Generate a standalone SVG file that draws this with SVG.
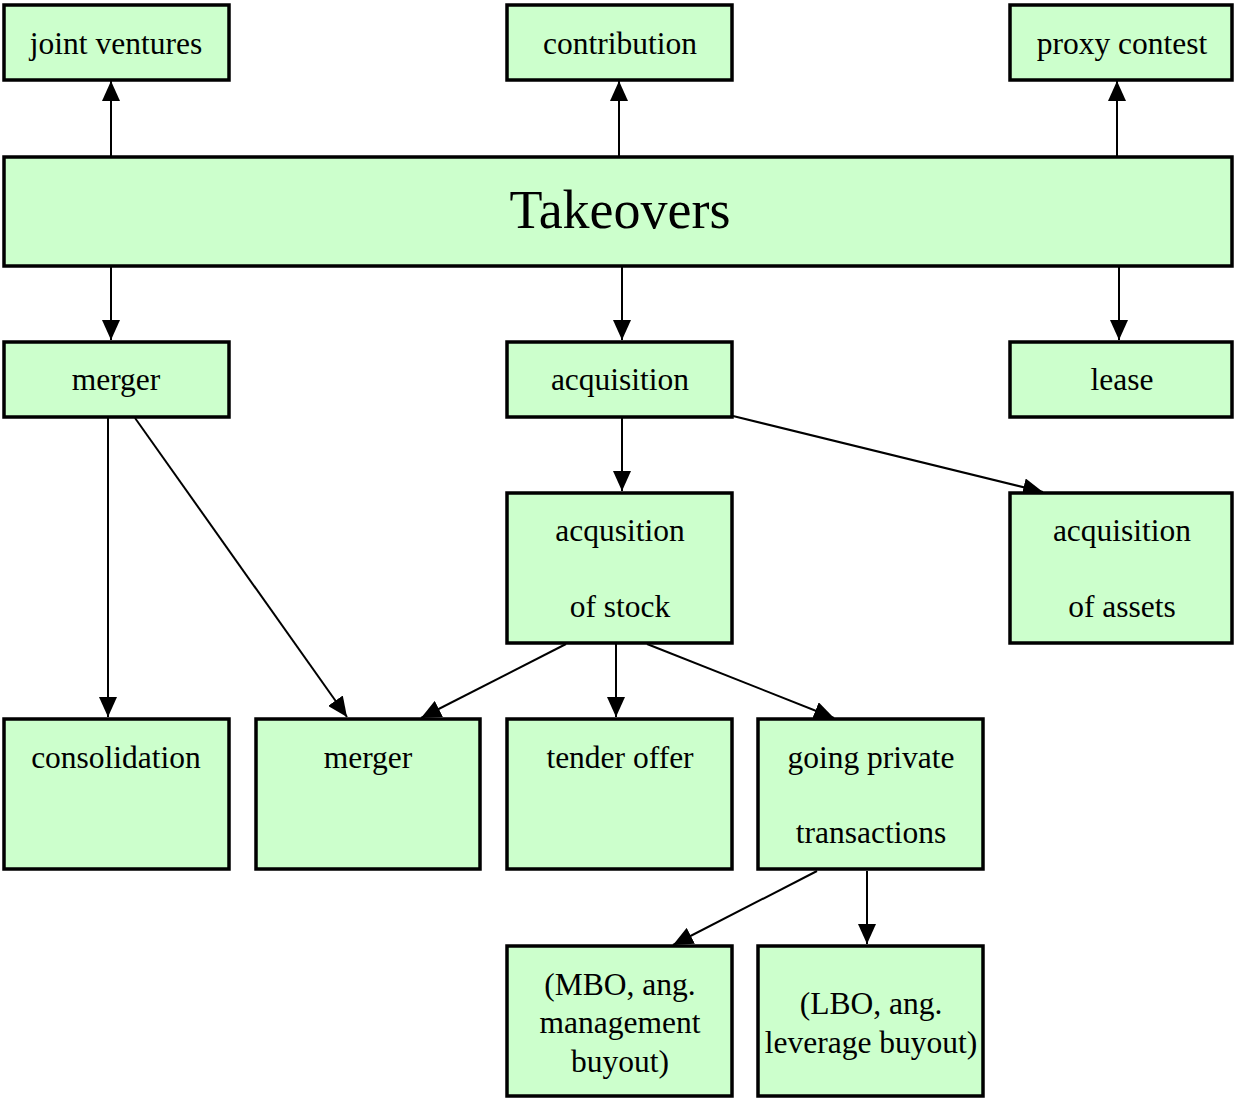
<svg xmlns="http://www.w3.org/2000/svg" width="1234" height="1098" viewBox="0 0 1234 1098">
<style>
.n rect{fill:#ccffcc;stroke:#000;stroke-width:3.5}
.n text{font-family:"Liberation Serif","Times New Roman",serif;font-size:31.5px;fill:#000;text-anchor:middle}
.e line{stroke:#000;stroke-width:2;marker-end:url(#ah)}
</style>
<defs>
<marker id="ah" markerWidth="20" markerHeight="18" refX="20" refY="9" orient="auto" markerUnits="userSpaceOnUse">
<path d="M0,0 L20,9 L0,18 Z" fill="#000"/>
</marker>
</defs>
<rect width="1234" height="1098" fill="#fff"/>
<g id="connectors" class="e">
<line x1="111" y1="156" x2="111" y2="81"/>
<line x1="619" y1="156" x2="619" y2="81"/>
<line x1="1117" y1="156" x2="1117" y2="81"/>
<line x1="111" y1="267" x2="111" y2="340"/>
<line x1="622" y1="267" x2="622" y2="340"/>
<line x1="1119" y1="267" x2="1119" y2="340"/>
<line x1="108" y1="418" x2="108" y2="717"/>
<line x1="135" y1="418" x2="347" y2="717"/>
<line x1="622" y1="418" x2="622" y2="491"/>
<line x1="733" y1="416" x2="1043" y2="492"/>
<line x1="566" y1="644" x2="421" y2="718"/>
<line x1="616" y1="644" x2="616" y2="717"/>
<line x1="647" y1="644" x2="834" y2="718"/>
<line x1="817" y1="871" x2="673" y2="945"/>
<line x1="867" y1="871" x2="867" y2="944"/>
</g>
<g id="n-joint" class="n"><rect x="4" y="5" width="225" height="75"/><text x="116" y="54">joint ventures</text></g>
<g id="n-contribution" class="n"><rect x="507" y="5" width="225" height="75"/><text x="620" y="54">contribution</text></g>
<g id="n-proxy" class="n"><rect x="1010" y="5" width="222" height="75"/><text x="1122" y="54">proxy contest</text></g>
<g id="n-takeovers" class="n"><rect x="4" y="157" width="1228" height="109"/><text x="620" y="228" style="font-size:54px">Takeovers</text></g>
<g id="n-merger1" class="n"><rect x="4" y="342" width="225" height="75"/><text x="116" y="390">merger</text></g>
<g id="n-acquisition" class="n"><rect x="507" y="342" width="225" height="75"/><text x="620" y="390">acquisition</text></g>
<g id="n-lease" class="n"><rect x="1010" y="342" width="222" height="75"/><text x="1122" y="390">lease</text></g>
<g id="n-stock" class="n"><rect x="507" y="493" width="225" height="150"/><text x="620" y="541">acqusition</text><text x="620" y="617">of stock</text></g>
<g id="n-assets" class="n"><rect x="1010" y="493" width="222" height="150"/><text x="1122" y="541">acquisition</text><text x="1122" y="617">of assets</text></g>
<g id="n-consolidation" class="n"><rect x="4" y="719" width="225" height="150"/><text x="116" y="768">consolidation</text></g>
<g id="n-merger2" class="n"><rect x="256" y="719" width="224" height="150"/><text x="368" y="768">merger</text></g>
<g id="n-tender" class="n"><rect x="507" y="719" width="225" height="150"/><text x="620" y="768">tender offer</text></g>
<g id="n-private" class="n"><rect x="758" y="719" width="225" height="150"/><text x="871" y="768">going private</text><text x="871" y="843">transactions</text></g>
<g id="n-mbo" class="n"><rect x="507" y="946" width="225" height="150"/><text x="620" y="995">(MBO, ang.</text><text x="620" y="1033">management</text><text x="620" y="1072">buyout)</text></g>
<g id="n-lbo" class="n"><rect x="758" y="946" width="225" height="150"/><text x="871" y="1014">(LBO, ang.</text><text x="871" y="1053">leverage buyout)</text></g>
</svg>
